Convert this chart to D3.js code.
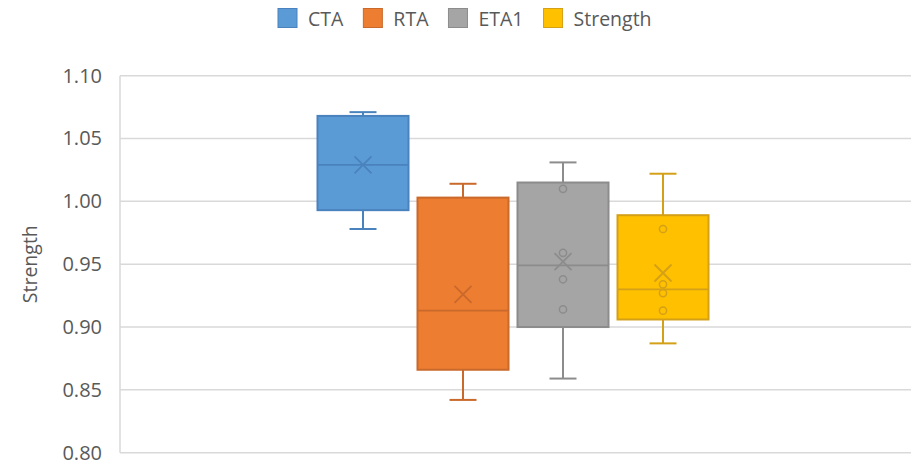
<!DOCTYPE html>
<html>
<head>
<meta charset="utf-8">
<script src="https://cdn.jsdelivr.net/npm/d3@7"></script>
<style>
  body { margin: 0; background: #fff; }
  text { font-family: "Open Sans", sans-serif; fill: #595959; }
</style>
</head>
<body>
<svg id="chart" width="913" height="464"></svg>
<script>
// series + summary stats
var series = ["CTA", "RTA", "ETA1", "Strength"];
var whiskerLow  = [0.978, 0.842, 0.859, 0.887];
var quartile1   = [0.993, 0.866, 0.900, 0.906];
var medians     = [1.029, 0.913, 0.949, 0.930];
var quartile3   = [1.068, 1.003, 1.015, 0.989];
var whiskerHigh = [1.071, 1.014, 1.031, 1.022];
var means       = [1.029, 0.926, 0.952, 0.943];
var innerPoints = [[], [], [1.010, 0.959, 0.938, 0.914], [0.978, 0.934, 0.927, 0.913]];
var yTicks = [0.80, 0.85, 0.90, 0.95, 1.00, 1.05, 1.10];
var yTitle = "Strength";

var fills   = ["#5B9BD5", "#ED7D31", "#A5A5A5", "#FFC000"];
var strokes = ["#4A82BD", "#C9692B", "#8C8C8C", "#D4A017"];

var svg = d3.select("#chart");
var plot = {left: 120, right: 911, top: 75.7, bottom: 452.7};

var y = d3.scaleLinear()
  .domain([0.80, 1.10])
  .range([plot.bottom, plot.top]);

// one category, series grouped in the middle
var xCat = d3.scaleBand().domain(["all"]).range([plot.left, 906]);
var groupCenter = xCat("all") + xCat.bandwidth() / 2;
var x = d3.scaleBand()
  .domain(series)
  .range([groupCenter - 200, groupCenter + 200])
  .paddingInner(0.09)
  .paddingOuter(0.045);

// gridlines
svg.append("g").selectAll("line").data(yTicks).enter()
  .append("line")
  .attr("x1", plot.left).attr("x2", plot.right)
  .attr("y1", function(d){ return y(d); })
  .attr("y2", function(d){ return y(d); })
  .style("stroke", "#D9D9D9").style("stroke-width", 1.5);

svg.append("line")
  .attr("x1", plot.left).attr("x2", plot.left)
  .attr("y1", plot.top).attr("y2", plot.bottom)
  .style("stroke", "#D9D9D9").style("stroke-width", 1.5);

// y axis labels
var yAxis = d3.axisLeft(y).tickValues(yTicks).tickFormat(d3.format(".2f")).tickSize(0).tickPadding(18);
var ya = svg.append("g").attr("transform", "translate(" + plot.left + ",0)").call(yAxis);
ya.select(".domain").remove();
ya.selectAll("text").style("font-size", "20px").attr("fill", "#595959")
  .style("font-family", "'Open Sans', sans-serif");

svg.append("text")
  .attr("transform", "translate(37," + ((plot.top + plot.bottom) / 2) + ") rotate(-90)")
  .attr("text-anchor", "middle")
  .style("font-size", "19.5px")
  .text(yTitle);

// boxes
var capW = 27;
series.forEach(function(s, i){
  var g = svg.append("g");
  var x0 = x(s), w = x.bandwidth(), cx = x0 + w / 2;
  var col = strokes[i];

  // whiskers
  g.append("line").attr("x1", cx).attr("x2", cx)
    .attr("y1", y(whiskerHigh[i])).attr("y2", y(quartile3[i]))
    .style("stroke", col).style("stroke-width", 2);
  g.append("line").attr("x1", cx).attr("x2", cx)
    .attr("y1", y(quartile1[i])).attr("y2", y(whiskerLow[i]))
    .style("stroke", col).style("stroke-width", 2);
  [whiskerHigh[i], whiskerLow[i]].forEach(function(v){
    g.append("line").attr("x1", cx - capW / 2).attr("x2", cx + capW / 2)
      .attr("y1", y(v)).attr("y2", y(v))
      .style("stroke", col).style("stroke-width", 2);
  });

  g.append("rect")
    .attr("x", x0).attr("width", w)
    .attr("y", y(quartile3[i]))
    .attr("height", y(quartile1[i]) - y(quartile3[i]))
    .style("fill", fills[i]).style("stroke", col).style("stroke-width", 2);

  g.append("line").attr("x1", x0).attr("x2", x0 + w)
    .attr("y1", y(medians[i])).attr("y2", y(medians[i]))
    .style("stroke", col).style("stroke-width", 1.8);

  // inner points
  g.selectAll("circle").data(innerPoints[i]).enter()
    .append("circle")
    .attr("cx", cx).attr("cy", function(d){ return y(d); })
    .attr("r", 3.6)
    .style("fill", "none").style("stroke", col).style("stroke-width", 1.5);

  // mean marker
  var my = y(means[i]), m = 8.5;
  g.append("path")
    .attr("d", "M" + (cx - m) + "," + (my - m) + "L" + (cx + m) + "," + (my + m) +
               "M" + (cx - m) + "," + (my + m) + "L" + (cx + m) + "," + (my - m))
    .style("stroke", col).style("stroke-width", 1.8).style("fill", "none");
});

// legend, laid out left to right from measured text widths
var legend = svg.append("g");
var lx = 278;
series.forEach(function(s, i){
  legend.append("rect")
    .attr("x", lx).attr("y", 8.5).attr("width", 19).attr("height", 19)
    .style("fill", fills[i]).style("stroke", strokes[i]).style("stroke-width", 1);
  var t = legend.append("text")
    .attr("x", lx + 30).attr("y", 25.5)
    .style("font-size", "19.5px")
    .text(s);
  lx += 30 + t.node().getComputedTextLength() + 20;
});
</script>
</body>
</html>
